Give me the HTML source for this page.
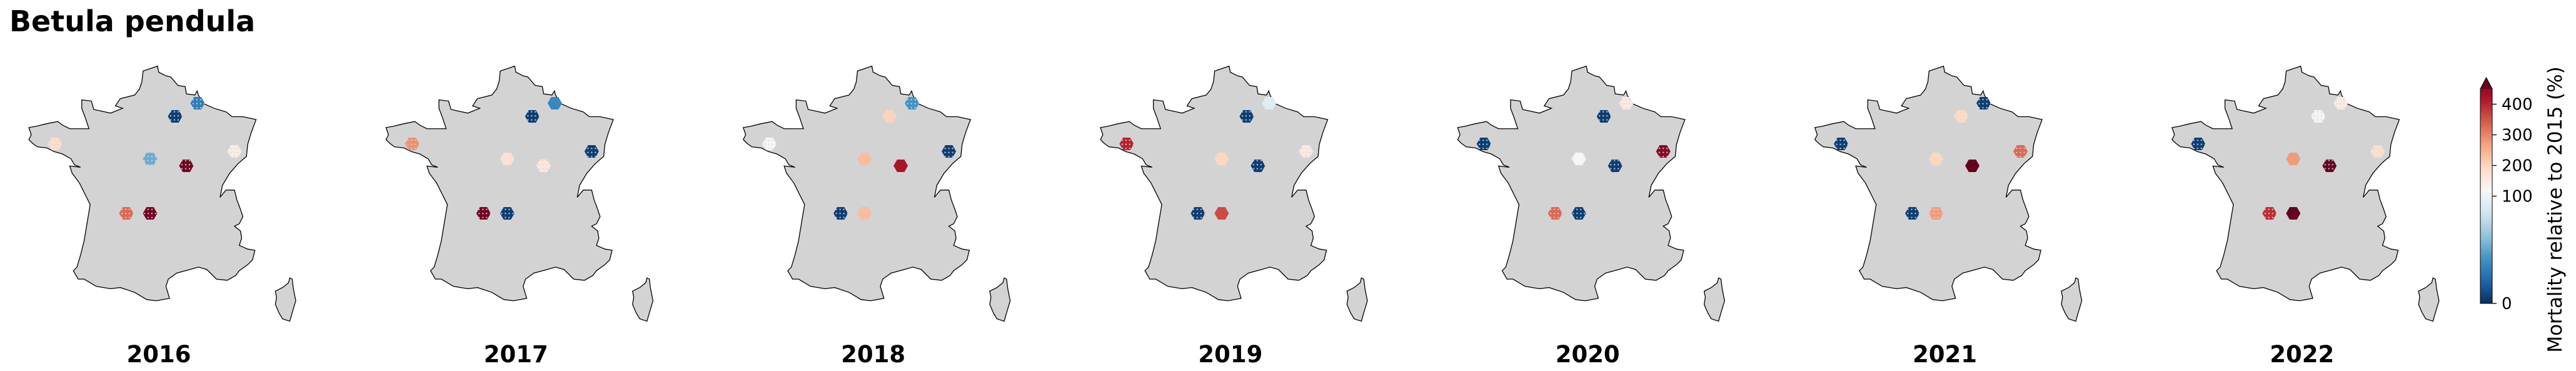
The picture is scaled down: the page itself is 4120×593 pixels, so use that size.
<!DOCTYPE html>
<html><head><meta charset="utf-8"><style>
html,body{margin:0;padding:0;background:#fff;}
svg{display:block;font-family:"DejaVu Sans","Liberation Sans",sans-serif;}
</style></head><body>
<svg id="fig" width="4120" height="593" viewBox="0 0 4120 593" xmlns="http://www.w3.org/2000/svg">
<defs>
<pattern id="dots" width="6" height="6.5" patternUnits="userSpaceOnUse">
<circle cx="3" cy="3.2" r="1.2" fill="#d8d8d8" fill-opacity="0.85"/>
</pattern>
<linearGradient id="cbgrad" x1="0" y1="1" x2="0" y2="0"></linearGradient>
</defs>
<text x="15" y="50" font-size="46" font-weight="bold">Betula pendula</text>
<g id="panels"></g>
<g id="colorbar"></g>
</svg>
<script>
const years = ["2016","2017","2018","2019","2020","2021","2022"];
const siteNames = ["A","B","C","D","E","F","G","H"];
const siteX = [316, 280, 88, 375, 240, 298, 202, 240];
const siteY = [165, 186, 230, 242, 254, 265, 341, 341];
const v2016 = [30, 5, 165, 125, 50, 440, 300, 440];
const v2017 = [35, 5, 260, 5, 155, 140, 440, 5];
const v2018 = [40, 180, 105, 5, 210, 390, 5, 210];
const v2019 = [88, 5, 370, 135, 175, 5, 5, 330];
const v2020 = [130, 5, 5, 420, 102, 5, 300, 5];
const v2021 = [5, 170, 5, 300, 175, 460, 5, 250];
const v2022 = [130, 108, 5, 160, 250, 450, 360, 460];
const h2016 = [1,1,1,1,1,1,1,1];
const h2017 = [0,1,1,1,0,1,1,1];
const h2018 = [1,1,1,1,0,0,1,0];
const h2019 = [0,1,1,1,0,1,1,0];
const h2020 = [1,1,1,1,0,1,1,1];
const h2021 = [1,1,1,1,0,0,1,1];
const h2022 = [1,1,1,1,0,1,1,0];
const cbTicks = [0, 100, 200, 300, 400];
const values = [v2016,v2017,v2018,v2019,v2020,v2021,v2022];
const hatches = [h2016,h2017,h2018,h2019,h2020,h2021,h2022];

const VMIN=0, VC=100, VMAX=450;
const stops=["#053061","#2166ac","#4393c3","#92c5de","#d1e5f0","#f7f7f7","#fddbc7","#f4a582","#d6604d","#b2182b","#67001f"];
function norm(v){ if(v<=VC) return Math.max(0,0.5*(v-VMIN)/(VC-VMIN)); return Math.min(1,0.5+0.5*(v-VC)/(VMAX-VC)); }
function hex2rgb(h){return [parseInt(h.substr(1,2),16),parseInt(h.substr(3,2),16),parseInt(h.substr(5,2),16)];}
function cmap(t){ const p=t*(stops.length-1); const i=Math.min(stops.length-2,Math.floor(p)); const f=p-i;
  const a=hex2rgb(stops[i]), b=hex2rgb(stops[i+1]);
  return "rgb("+a.map((x,k)=>Math.round(x+(b[k]-x)*f)).join(",")+")"; }

const NS="http://www.w3.org/2000/svg";
const mainland="M655,275 L660,300 690,315 710,320 740,355 770,360 775,390 810,395 820,378 825,395 845,430 890,450 940,465 965,485 1010,485 1065,497 1045,550 1030,600 1025,650 990,680 955,720 925,770 915,820 940,790 975,790 985,830 1000,870 1010,900 995,930 975,940 1000,960 1005,990 995,1020 1030,1035 1060,1040 1050,1080 1030,1100 995,1125 980,1145 945,1165 900,1160 860,1120 825,1110 790,1120 735,1135 700,1160 690,1190 705,1240 650,1250 610,1245 560,1215 500,1195 460,1200 400,1190 350,1160 325,1160 305,1125 320,1110 335,1060 350,1000 360,940 370,880 375,850 360,820 345,790 330,760 300,720 290,690 335,695 310,685 295,660 260,640 225,630 195,615 155,610 135,595 120,580 130,560 120,530 150,525 190,515 240,505 260,520 290,535 330,535 370,535 355,490 340,450 340,415 380,420 390,455 460,470 510,450 480,440 500,410 560,395 580,370 590,340 595,295 Z";
const corsica="M1205,1155 L1215,1160 1220,1200 1230,1250 1215,1300 1205,1335 1175,1325 1160,1300 1145,1265 1150,1235 1145,1210 1175,1195 1200,1175 Z";
const PANEL_DX=571.3, R=11.5;
const panels=document.getElementById("panels");
years.forEach((yr,pi)=>{
  const g=document.createElementNS(NS,"g");
  g.setAttribute("transform","translate("+(pi*PANEL_DX).toFixed(1)+",0)");
  
  
  const m=document.createElementNS(NS,"g");
  m.setAttribute("transform","scale(0.3846)");
  [mainland,corsica].forEach((d,k)=>{
    const p=document.createElementNS(NS,"path");
    p.setAttribute("d",d);p.setAttribute("fill","#d3d3d3");p.setAttribute("stroke","#000");
    p.setAttribute("stroke-width","1.3");p.setAttribute("vector-effect","non-scaling-stroke");
    
    
    m.appendChild(p);
  });
  g.appendChild(m);
  siteNames.forEach((s,i)=>{
    const cx=siteX[i], cy=siteY[i];
    let pts=[];
    for(let k=0;k<6;k++){const a=Math.PI/3*k; pts.push((cx+R*Math.cos(a)).toFixed(1)+","+(cy+R*Math.sin(a)).toFixed(1));}
    const h=document.createElementNS(NS,"polygon");
    h.setAttribute("points",pts.join(" "));
    h.setAttribute("fill",cmap(norm(values[pi][i])));
    
    
    g.appendChild(h);
    if(hatches[pi][i]){
      const d=document.createElementNS(NS,"polygon");
      d.setAttribute("points",pts.join(" "));
      d.setAttribute("fill","url(#dots)");
      
      
      g.appendChild(d);
    }
  });
  const t=document.createElementNS(NS,"text");
  t.setAttribute("x","254");t.setAttribute("y","579");t.setAttribute("text-anchor","middle");
  t.setAttribute("font-size","37");t.setAttribute("font-weight","bold");
  t.textContent=yr;
  
  
  g.appendChild(t);
  panels.appendChild(g);
});

const grad=document.getElementById("cbgrad");
for(let k=0;k<=20;k++){const s=document.createElementNS(NS,"stop");s.setAttribute("offset",k/20);s.setAttribute("stop-color",cmap(k/20));grad.appendChild(s);}
const cb=document.getElementById("colorbar");
const CBX=3967, CBW=19, CBTOP=142, CBBOT=485;
function cbY(v){return CBBOT-(CBBOT-CBTOP)*norm(v);}
const bar=document.createElementNS(NS,"path");
bar.setAttribute("d","M"+CBX+","+CBBOT+" L"+CBX+","+CBTOP+" L"+(CBX+CBW/2)+",124 L"+(CBX+CBW)+","+CBTOP+" L"+(CBX+CBW)+","+CBBOT+" Z");
bar.setAttribute("fill","url(#cbgrad)");


cb.appendChild(bar);
const tri=document.createElementNS(NS,"path");
tri.setAttribute("d","M"+CBX+","+CBTOP+" L"+(CBX+CBW/2)+",124 L"+(CBX+CBW)+","+CBTOP+" Z");
tri.setAttribute("fill","#67001f");


cb.appendChild(tri);
const outline=document.createElementNS(NS,"path");
outline.setAttribute("d",bar.getAttribute("d"));outline.setAttribute("fill","none");outline.setAttribute("stroke","#000");outline.setAttribute("stroke-width","1");


cb.appendChild(outline);
cbTicks.forEach(v=>{
  const y=cbY(v);
  const l=document.createElementNS(NS,"line");
  l.setAttribute("x1",CBX+CBW);l.setAttribute("x2",CBX+CBW+7);l.setAttribute("y1",y);l.setAttribute("y2",y);l.setAttribute("stroke","#000");l.setAttribute("stroke-width","1.3");
  
  
  cb.appendChild(l);
  const t=document.createElementNS(NS,"text");
  t.setAttribute("x",CBX+CBW+15);t.setAttribute("y",y+9);t.setAttribute("font-size","26");
  t.textContent=String(v);
  
  
  cb.appendChild(t);
});
const lab=document.createElementNS(NS,"text");
lab.setAttribute("transform","translate(4097,335) rotate(-90)");
lab.setAttribute("text-anchor","middle");lab.setAttribute("font-size","31");
lab.textContent="Mortality relative to 2015 (%)";


cb.appendChild(lab);
</script>
</body></html>
